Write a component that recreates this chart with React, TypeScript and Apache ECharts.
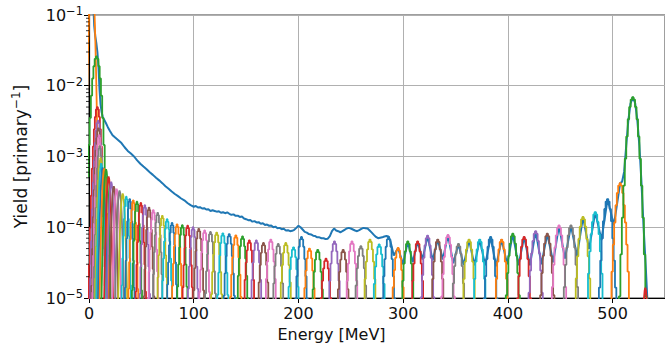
import React, { useEffect, useRef } from "react";
import * as echarts from "echarts";

const COLORS = ["#1f77b4", "#ff7f0e", "#2ca02c", "#d62728", "#9467bd", "#8c564b", "#e377c2", "#7f7f7f", "#bcbd22", "#17becf"];

const xTicks = [0, 100, 200, 300, 400, 500];
const yMinorTicks = [
  2e-5, 3e-5, 4e-5, 5e-5, 6e-5, 7e-5, 8e-5, 9e-5,
  2e-4, 3e-4, 4e-4, 5e-4, 6e-4, 7e-4, 8e-4, 9e-4,
  2e-3, 3e-3, 4e-3, 5e-3, 6e-3, 7e-3, 8e-3, 9e-3,
  2e-2, 3e-2, 4e-2, 5e-2, 6e-2, 7e-2, 8e-2, 9e-2,
];

// peak (energy-slice) spectra: centre [MeV], height [1/primary], width [MeV]
const peakCenters = [
  3.0, 7.2, 8.0, 8.6, 9.0, 9.6, 10.2, 11.0, 12.0, 13.3, 14.8, 16.6,
  19.0, 21.5, 24.0, 26.7, 29.5, 32.5, 35.6, 38.9, 42.3, 45.8,
  49.5, 53.3, 57.3, 61.4, 65.6, 70.0, 74.6, 79.3, 84.1, 89.1,
  94.2, 99.4, 104.8, 110.4, 116.0, 121.9, 127.8, 133.9, 140.2, 146.6,
  153.1, 159.8, 166.6, 173.6, 180.7, 187.9, 195.3, 202.9, 210.5, 218.4,
  226.3, 234.4, 242.7, 251.1, 259.6, 268.3, 277.1, 286.1, 295.2, 304.4,
  313.8, 323.3, 333.0, 342.8, 352.8, 362.9, 373.1, 383.5, 394.0, 404.7,
  415.5, 426.5, 437.6, 448.8, 460.2, 471.7, 483.4, 495.2, 507.2, 519.3,
  531.5,
];
const peakHeights = [
  0.4, 0.026, 0.005, 0.0032, 0.0025, 0.002, 0.0014, 0.00095, 0.0008, 0.0007, 0.00068, 0.00066,
  0.00052, 0.00044, 0.00038, 0.00035, 0.00033, 0.0003, 0.00027, 0.00025, 0.00024, 0.00023,
  0.00022, 0.000205, 0.00019, 0.000175, 0.00016, 0.000145, 0.00013, 0.000115, 0.00011, 0.000107,
  0.000105, 0.0001, 9.5e-5, 9e-5, 8.6e-5, 8.4e-5, 8.2e-5, 8e-5, 7.7e-5, 7.4e-5,
  6.5e-5, 6.5e-5, 6e-5, 6.7e-5, 5.8e-5, 6e-5, 5.2e-5, 7.3e-5, 5e-5, 4.8e-5,
  3.6e-5, 6.3e-5, 4.8e-5, 6.3e-5, 5.4e-5, 6.7e-5, 5.7e-5, 7.3e-5, 5.1e-5, 6.3e-5,
  6.3e-5, 7.6e-5, 6.7e-5, 7.8e-5, 5.8e-5, 6.7e-5, 6.7e-5, 7.3e-5, 6.7e-5, 8.1e-5,
  7.3e-5, 8.8e-5, 8.1e-5, 1.06e-4, 1.06e-4, 1.4e-4, 1.64e-4, 2.5e-4, 4.2e-4, 6.9e-3,
  1.4e-5,
];
const peakWidths = [
  1.6, 3.0, 2.4, 2.2, 2.0, 1.9, 1.8, 1.7, 1.6, 1.5, 1.5, 1.5,
  1.5, 1.5, 1.55, 1.6, 1.6, 1.65, 1.7, 1.75, 1.8, 1.85,
  1.9, 1.9, 1.95, 2.0, 2.0, 2.05, 2.1, 2.1, 2.15, 2.2,
  2.2, 2.25, 2.3, 2.3, 2.35, 2.4, 2.4, 2.45, 2.45, 2.5,
  2.5, 2.55, 2.55, 2.6, 2.6, 2.65, 2.65, 2.7, 2.7, 2.7,
  2.75, 2.75, 2.8, 2.8, 2.8, 2.85, 2.85, 2.85, 2.9, 2.9,
  2.9, 2.95, 2.95, 2.95, 3.0, 3.0, 3.0, 3.0, 3.05, 3.05,
  3.05, 3.1, 3.1, 3.1, 3.1, 3.15, 3.15, 3.2, 3.2, 3.5,
  1.5,
];
// common peak shape (relative yield at offsets in units of the width)
const shapeOffsets = [-4, -3.6, -3.2, -2.8, -2.4, -2, -1.6, -1.2, -0.8, -0.4, 0, 0.4, 0.8, 1.2, 1.6, 2, 2.4, 2.8, 3.2, 3.6, 4];
const shapeValues = [1e-9, 0.00153, 0.00598, 0.0198, 0.0561, 0.135, 0.278, 0.487, 0.726, 0.923, 1, 0.923, 0.726, 0.487, 0.278, 0.135, 0.0561, 0.0198, 0.00598, 0.00153, 1e-9];

// total spectrum (blue)
const totalEnergy = [
  1, 4, 5, 6, 7, 8, 9, 10, 11, 12, 13, 14.5, 16, 18, 20, 22.5, 25, 28, 31, 34, 37, 40, 43, 46, 49,
  52, 55, 58, 61, 64, 67, 70, 73, 76, 79, 82, 85, 88, 91, 94, 97,
  100, 102, 104, 106, 108, 110, 112, 114, 116, 118, 120, 122, 124, 126, 128, 130, 132, 134, 136, 138,
  140, 142, 144, 146, 148, 150, 152, 154, 156, 158, 160, 162, 164, 166, 168, 170, 172, 174, 176, 178,
  180, 182, 184, 186, 188, 190, 192, 194, 196, 198, 200, 202, 204, 206, 208, 210, 212, 214, 216, 218,
  220, 222, 224, 226, 228, 230, 232, 234, 236, 238, 240, 242, 244, 246, 248, 250, 252, 254, 256, 258,
  260, 262, 264, 266, 268, 270, 272, 274, 276, 278, 280, 282, 284, 286, 288,
  291, 295.2, 299.8, 304.4, 309.1, 313.8, 318.5, 323.3, 328.1, 333.0,
  337.9, 342.8, 347.8, 352.8, 357.8, 362.9, 368.0, 373.1, 378.3, 383.5, 388.7, 394.0, 399.3,
  404.7, 410.1, 415.5, 421.0, 426.5, 432.0, 437.6, 443.2, 448.8, 454.5, 460.2, 466.0, 471.7,
  477.5, 483.4, 489.3, 495.2, 501.2, 507.2, 509, 511, 513, 515, 517, 519.3, 521.5, 523.5, 525.5,
  527.5, 529.5, 531.5, 533.5, 536,
];
const totalYield = [
  0.5, 0.15, 0.07, 0.05, 0.04, 0.03, 0.019, 0.009, 0.0055, 0.0043, 0.0037, 0.0033, 0.003, 0.0026,
  0.0023, 0.002, 0.00185, 0.0017, 0.00155, 0.00135, 0.0012, 0.0011, 0.001, 0.00088, 0.00079,
  0.00072, 0.00066, 0.0006, 0.00055, 0.0005, 0.00046, 0.00042, 0.00038, 0.00035, 0.00032, 0.000295,
  0.000275, 0.000255, 0.00024, 0.00022, 0.000205,
  1.95e-4, 2.0e-4, 1.9e-4, 1.92e-4, 1.84e-4, 1.86e-4, 1.78e-4, 1.8e-4, 1.7e-4, 1.74e-4,
  1.7e-4, 1.66e-4, 1.68e-4, 1.6e-4, 1.63e-4, 1.58e-4, 1.62e-4, 1.55e-4, 1.5e-4, 1.52e-4,
  1.45e-4, 1.46e-4, 1.4e-4, 1.42e-4, 1.33e-4, 1.3e-4, 1.26e-4, 1.27e-4, 1.2e-4, 1.22e-4,
  1.17e-4, 1.18e-4, 1.12e-4, 1.14e-4, 1.08e-4, 1.09e-4, 1.05e-4, 1.06e-4, 1.0e-4, 1.02e-4,
  9.7e-5, 9.8e-5, 9.4e-5, 9.5e-5, 9.0e-5, 9.1e-5, 8.8e-5, 8.9e-5, 9.2e-5, 9.8e-5,
  1.05e-4, 1.0e-4, 9.3e-5, 8.6e-5, 8.4e-5, 8.0e-5, 7.9e-5, 7.6e-5, 7.5e-5, 7.2e-5,
  7.2e-5, 7.0e-5, 7.0e-5, 6.8e-5, 6.9e-5, 7.5e-5, 8.8e-5, 9.6e-5, 9.0e-5, 8.8e-5,
  8.5e-5, 8.8e-5, 9.2e-5, 9.6e-5, 9.8e-5, 9.6e-5, 9.3e-5, 9.0e-5, 8.8e-5, 9.1e-5,
  9.5e-5, 9.8e-5, 9.7e-5, 9.6e-5, 9.0e-5, 8.4e-5, 7.8e-5, 7.3e-5, 7.0e-5, 7.1e-5,
  7.2e-5, 7.4e-5, 7.5e-5, 7.4e-5, 6.2e-5,
  4e-5, 5.1e-5, 3e-5, 6.3e-5, 3.2e-5, 6.3e-5, 3.5e-5, 7.6e-5, 3.4e-5, 6.7e-5, 3.5e-5, 7.8e-5,
  3.1e-5, 5.8e-5, 2.9e-5, 6.7e-5, 2.9e-5, 6.7e-5, 2.9e-5, 7.3e-5, 2.8e-5, 6.7e-5, 3e-5, 8.1e-5,
  2.9e-5, 7.3e-5, 2.9e-5, 8.8e-5, 3e-5, 8.1e-5, 3.2e-5, 1.06e-4, 3.6e-5, 1.06e-4, 3.9e-5, 1.4e-4,
  4.9e-5, 1.64e-4, 6.6e-5, 2.5e-4, 1.07e-4, 4.2e-4, 4.4e-4, 6.1e-4, 1.44e-3, 3.25e-3, 5.56e-3,
  6.9e-3, 5.66e-3, 3.36e-3, 1.44e-3, 4.4e-4, 1.04e-4, 3e-5, 7.5e-6, 1e-7,
];

const FONT = "DejaVu Sans";
const TXT = "#111";

function buildOption() {
  const series: any[] = [];
  series.push({
    type: "line",
    data: totalEnergy.map((e, i) => [e, totalYield[i]]),
    symbol: "none",
    lineStyle: { width: 2, color: COLORS[0] },
    itemStyle: { color: COLORS[0] },
    silent: true,
  });
  peakCenters.forEach((c, i) => {
    const color = COLORS[(i + 1) % 10];
    series.push({
      type: "line",
      step: "middle",
      symbol: "none",
      data: shapeOffsets.map((o, j) => [c + o * peakWidths[i], peakHeights[i] * shapeValues[j]]),
      lineStyle: { width: 1.8, color },
      itemStyle: { color },
      silent: true,
    });
  });
  series.push({
    type: "custom",
    silent: true,
    z: 5,
    data: yMinorTicks.map((v) => [0, v]),
    encode: { x: 0, y: 1 },
    renderItem: (params: any, api: any) => {
      const p = api.coord([0, api.value(1)]);
      return {
        type: "line",
        shape: { x1: p[0] - 3, y1: p[1], x2: p[0], y2: p[1] },
        style: { stroke: "#000", lineWidth: 0.8 },
      };
    },
  });

  const supStyle = { fontSize: 11.5, fontFamily: FONT, color: TXT, verticalAlign: "top", lineHeight: 12 };
  return {
    animation: false,
    backgroundColor: "#fff",
    grid: { left: 89, right: -5, top: 15, bottom: 54, show: true, borderColor: "#808080", borderWidth: 1.5 },
    xAxis: {
      type: "value",
      min: 0,
      max: 550,
      interval: 100,
      axisLine: { show: true, onZero: false, lineStyle: { color: "#000", width: 1.2 } },
      axisTick: { show: true, length: 5, lineStyle: { color: "#000", width: 1 } },
      axisLabel: {
        margin: 7,
        fontSize: 16,
        fontFamily: FONT,
        color: TXT,
        showMaxLabel: false,
        formatter: (v: number) => (xTicks.indexOf(v) >= 0 ? String(v) : ""),
      },
      splitLine: { show: true, lineStyle: { color: "#b0b0b0", width: 1 } },
      name: "Energy [MeV]",
      nameLocation: "middle",
      nameGap: 28,
      nameTextStyle: { fontSize: 16, fontFamily: FONT, color: TXT, padding: [0, 91, 0, 0] },
    },
    yAxis: {
      type: "log",
      logBase: 10,
      min: 1e-5,
      max: 1e-1,
      axisLine: { show: true, lineStyle: { color: "#000", width: 1.2 } },
      axisTick: { show: true, length: 5, lineStyle: { color: "#000", width: 1 } },
      axisLabel: {
        margin: 6,
        formatter: (v: number) => {
          const e = Math.round(Math.log10(v));
          return `{b|10}{s|−${-e}}`;
        },
        rich: {
          b: { fontSize: 16, fontFamily: FONT, color: TXT, lineHeight: 20 },
          s: supStyle,
        },
      },
      splitLine: { show: true, lineStyle: { color: "#b0b0b0", width: 1 } },
      name: "{b|Yield [primary}{s|−1}{b|]}",
      nameLocation: "middle",
      nameGap: 57,
      nameRotate: 90,
      nameTextStyle: {
        fontSize: 17,
        fontFamily: FONT,
        color: TXT,
        rich: {
          b: { fontSize: 17, fontFamily: FONT, color: TXT, lineHeight: 22 },
          s: { fontSize: 12, fontFamily: FONT, color: TXT, verticalAlign: "top", lineHeight: 12 },
        },
      },
    },
    series,
  };
}

export default function App() {
  const ref = useRef<HTMLDivElement>(null);
  useEffect(() => {
    const chart = echarts.init(ref.current!, undefined, { renderer: "svg" });
    chart.setOption(buildOption() as any);
    return () => chart.dispose();
  }, []);
  return <div ref={ref} style={{ position: "fixed", left: 0, top: 0, width: 665, height: 352 }} />;
}
